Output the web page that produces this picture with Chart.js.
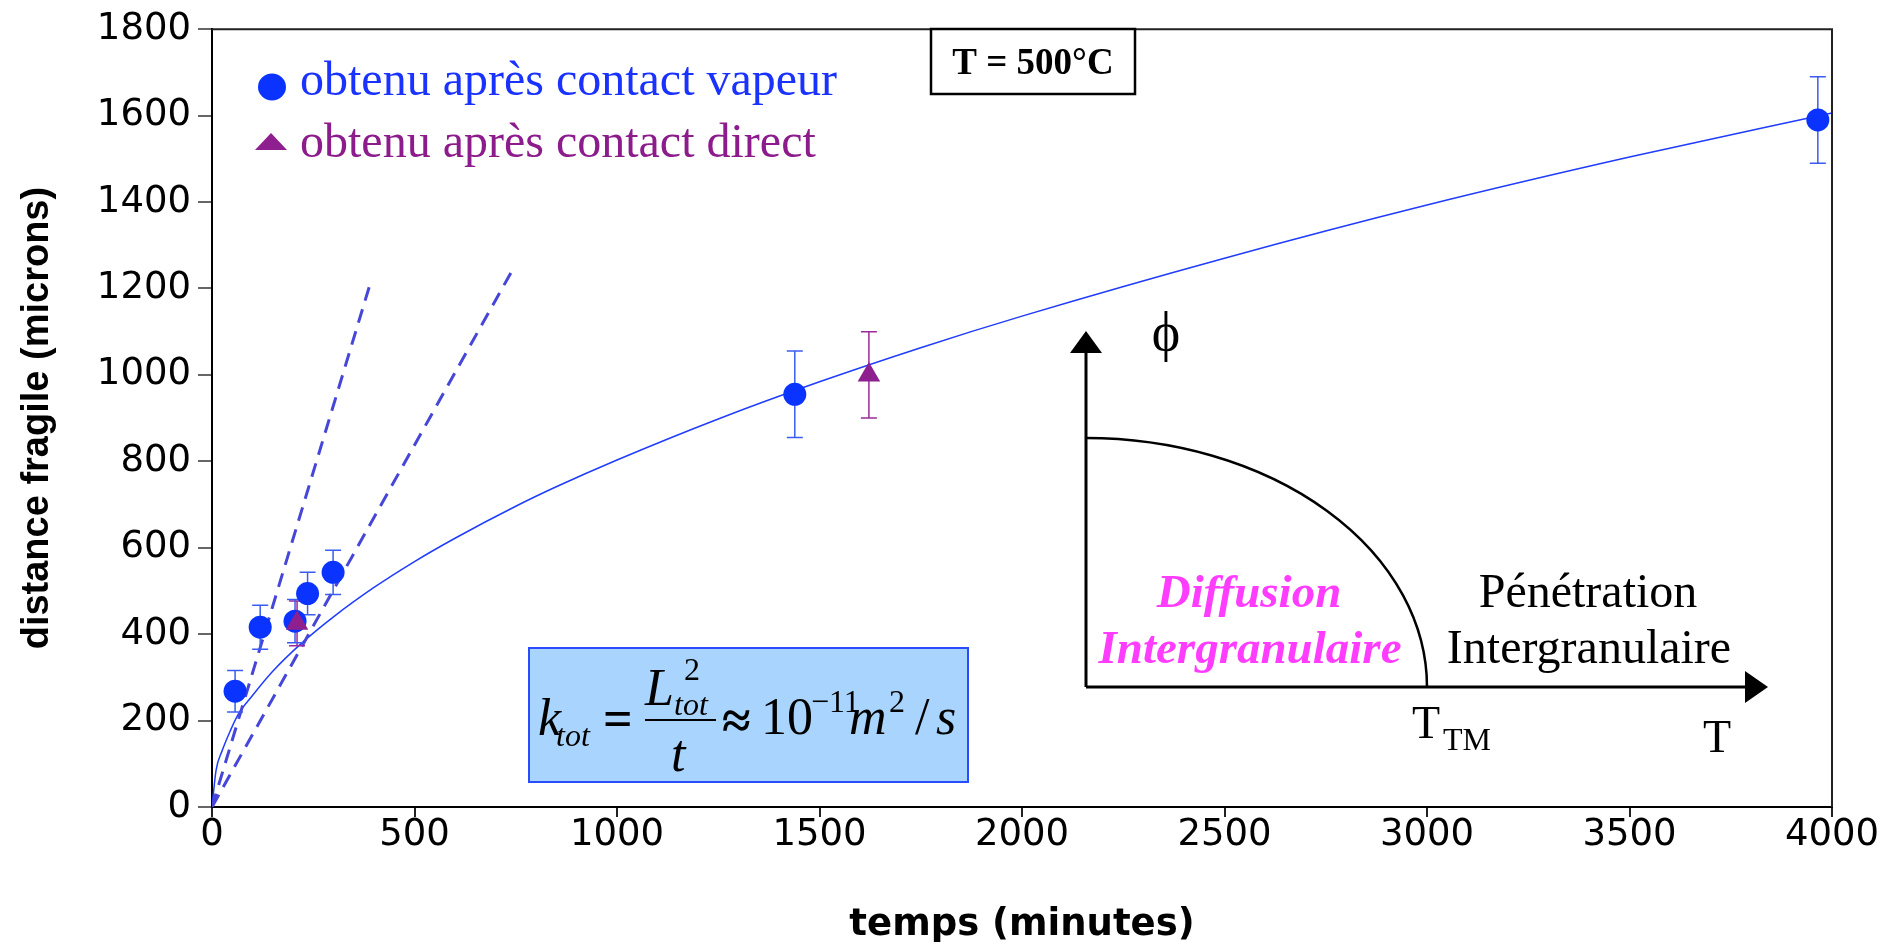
<!DOCTYPE html>
<html>
<head>
<meta charset="utf-8">
<script src="https://cdn.jsdelivr.net/npm/chart.js@4.4.1/dist/chart.umd.min.js"></script>
<style>
  html, body { margin: 0; padding: 0; background: #fff; overflow: hidden; }
</style>
</head>
<body>
<canvas id="c" width="1897" height="942"></canvas>
<script>
// points obtained after vapour contact (minutes, microns, +/- error)
const vapeurT = [57, 119, 205, 236, 299, 1439, 3965];
const vapeurL = [268, 416, 430, 494, 543, 955, 1590];
const vapeurErr = [48, 51, 50, 49, 51, 100, 100];

// points obtained after direct contact
const directT = [210, 1622];
const directL = [425, 1000];
const directErr = [52, 100];

// fitted curve
const fitT = [0, 10, 25, 45, 65, 100, 150, 220, 300, 400, 500, 600, 750, 850, 1000, 1250, 1500, 1750, 2000, 2500, 3000, 3500, 4000];
const fitL = [0, 85, 130, 176, 215, 258, 314, 378, 440, 508, 568, 622, 696, 741, 803, 898, 984, 1063, 1136, 1270, 1393, 1504, 1606];

// dashed initial slopes
const pente1T = [0, 389];
const pente1L = [0, 1206];
const pente2T = [0, 745];
const pente2L = [0, 1248];

const xTicks = [0, 500, 1000, 1500, 2000, 2500, 3000, 3500, 4000];
const yTicks = [0, 200, 400, 600, 800, 1000, 1200, 1400, 1600, 1800];

const BLUE = '#0a33ff';
const PURPLE = '#8e1f8e';
const SERIF = '"Liberation Serif", "Times New Roman", serif';

const pts = (xs, ys) => xs.map((x, i) => ({ x, y: ys[i] }));

function errBars(ts, ls, es, color) {
  return ts.map((t, i) => ({
    data: [{ x: t, y: ls[i] - es[i] }, { x: t, y: ls[i] + es[i] }],
    showLine: true,
    borderColor: color,
    borderWidth: 1.5,
    pointStyle: 'line',
    pointRadius: 8,
    pointHoverRadius: 8,
    pointBorderColor: color,
    pointBorderWidth: 1.5,
    order: 3,
  }));
}

function txt(ctx, s, x, y, font, color, align) {
  ctx.font = font;
  ctx.fillStyle = color;
  ctx.textAlign = align || 'left';
  ctx.fillText(s, x, y);
}

const decor = {
  id: 'decor',
  afterDatasetsDraw(chart) {
    const { ctx, chartArea: a } = chart;
    ctx.save();
    ctx.textBaseline = 'alphabetic';

    // frame top + right
    ctx.strokeStyle = '#222';
    ctx.lineWidth = 2;
    ctx.beginPath();
    ctx.moveTo(a.left, a.top);
    ctx.lineTo(a.right, a.top);
    ctx.lineTo(a.right, a.bottom);
    ctx.stroke();

    // legend
    ctx.fillStyle = BLUE;
    ctx.beginPath();
    ctx.ellipse(272, 87, 14, 13.5, 0, 0, Math.PI * 2);
    ctx.fill();
    txt(ctx, 'obtenu après contact vapeur', 300, 95, '48px ' + SERIF, '#1a32ff');
    ctx.fillStyle = PURPLE;
    ctx.beginPath();
    ctx.moveTo(271, 133); ctx.lineTo(287, 150); ctx.lineTo(255, 150); ctx.closePath();
    ctx.fill();
    txt(ctx, 'obtenu après contact direct', 300, 157, '48px ' + SERIF, '#8c1c8c');

    // T = 500°C box
    ctx.fillStyle = '#fff';
    ctx.fillRect(931, 29, 204, 65);
    ctx.strokeStyle = '#000';
    ctx.lineWidth = 2.5;
    ctx.strokeRect(931, 29, 204, 65);
    txt(ctx, 'T = 500°C', 1033, 74, 'bold 37px ' + SERIF, '#000', 'center');

    // formula box
    ctx.fillStyle = '#a9d4fd';
    ctx.fillRect(529, 648, 439, 134);
    ctx.strokeStyle = '#2a4cff';
    ctx.lineWidth = 2;
    ctx.strokeRect(529, 648, 439, 134);
    const I = 'italic 52px ' + SERIF, IS = 'italic 32px ' + SERIF;
    const R = '52px ' + SERIF, RS = '32px ' + SERIF;
    txt(ctx, 'k', 538, 735, I, '#000');
    txt(ctx, 'tot', 556, 746, IS, '#000');
    txt(ctx, '=', 603, 736, 'bold 52px ' + SERIF, '#000');
    txt(ctx, 'L', 645, 705, I, '#000');
    txt(ctx, '2', 684, 680, RS, '#000');
    txt(ctx, 'tot', 674, 715, IS, '#000');
    ctx.strokeStyle = '#000';
    ctx.lineWidth = 2;
    ctx.beginPath(); ctx.moveTo(645, 720); ctx.lineTo(716, 720); ctx.stroke();
    txt(ctx, 't', 671, 771, I, '#000');
    txt(ctx, '≈', 722, 738, 'bold 52px ' + SERIF, '#000');
    txt(ctx, '10', 761, 734, R, '#000');
    txt(ctx, '−11', 811, 712, RS, '#000');
    txt(ctx, 'm', 849, 734, I, '#000');
    txt(ctx, '2', 889, 712, RS, '#000');
    txt(ctx, '/', 915, 734, R, '#000');
    txt(ctx, 's', 936, 734, I, '#000');

    // inset diagram
    const ox = 1086, oy = 687;
    ctx.strokeStyle = '#000';
    ctx.fillStyle = '#000';
    ctx.lineWidth = 3;
    ctx.beginPath();
    ctx.moveTo(ox, oy); ctx.lineTo(ox, 350);
    ctx.moveTo(ox, oy); ctx.lineTo(1746, oy);
    ctx.stroke();
    ctx.beginPath();
    ctx.moveTo(ox, 331); ctx.lineTo(ox + 16, 353); ctx.lineTo(ox - 16, 353); ctx.closePath();
    ctx.fill();
    ctx.beginPath();
    ctx.moveTo(1768, oy); ctx.lineTo(1745, oy - 16); ctx.lineTo(1745, oy + 16); ctx.closePath();
    ctx.fill();
    ctx.lineWidth = 2.5;
    ctx.beginPath();
    ctx.ellipse(ox, oy, 341, 249, 0, -Math.PI / 2, 0);
    ctx.stroke();

    txt(ctx, 'ϕ', 1166, 350, '54px ' + SERIF, '#000', 'center');
    txt(ctx, 'Diffusion', 1249, 607, 'bold italic 47px ' + SERIF, '#ff3cff', 'center');
    txt(ctx, 'Intergranulaire', 1250, 663, 'bold italic 47px ' + SERIF, '#ff3cff', 'center');
    txt(ctx, 'Pénétration', 1588, 607, '48px ' + SERIF, '#000', 'center');
    txt(ctx, 'Intergranulaire', 1589, 663, '48px ' + SERIF, '#000', 'center');
    txt(ctx, 'T', 1412, 738, '46px ' + SERIF, '#000');
    txt(ctx, 'TM', 1443, 750, '32px ' + SERIF, '#000');
    txt(ctx, 'T', 1717, 752, '46px ' + SERIF, '#000', 'center');

    ctx.restore();
  }
};

Chart.defaults.font.family = '"DejaVu Sans", sans-serif';
Chart.defaults.color = '#000';

new Chart(document.getElementById('c'), {
  type: 'scatter',
  data: {
    datasets: [
      {
        data: pts(fitT, fitL), showLine: true, borderColor: '#1f3cff', borderWidth: 1.5,
        pointRadius: 0, cubicInterpolationMode: 'monotone', order: 5,
      },
      {
        data: pts(pente1T, pente1L), showLine: true, borderColor: '#4646d8', borderWidth: 3,
        borderDash: [14, 9], pointRadius: 0, order: 4,
      },
      {
        data: pts(pente2T, pente2L), showLine: true, borderColor: '#4646d8', borderWidth: 3,
        borderDash: [14, 9], pointRadius: 0, order: 4,
      },
      ...errBars(vapeurT, vapeurL, vapeurErr, '#3a5cf0'),
      ...errBars(directT, directL, directErr, '#9a2a9a'),
      {
        data: pts(vapeurT, vapeurL), pointStyle: 'circle', pointRadius: 11.5, pointHoverRadius: 11.5,
        backgroundColor: BLUE, borderColor: BLUE, borderWidth: 0, order: 1,
      },
      {
        data: pts(directT, directL), pointStyle: 'triangle', pointRadius: 13, pointHoverRadius: 13,
        backgroundColor: PURPLE, borderColor: PURPLE, borderWidth: 0, order: 0,
      },
    ],
  },
  options: {
    responsive: false,
    animation: false,
    events: [],
    layout: { padding: { left: 0, right: 65, top: 0, bottom: 0 } },
    plugins: { legend: { display: false }, tooltip: { enabled: false } },
    scales: {
      x: {
        type: 'linear', min: 0, max: 4000,
        afterBuildTicks: (s) => { s.ticks = xTicks.map((v) => ({ value: v })); },
        afterFit: (s) => { s.height = 135; },
        ticks: { padding: 0, font: { size: 37, lineHeight: 1 }, color: '#000', maxRotation: 0, callback: (v) => String(v) },
        grid: { drawOnChartArea: false, drawTicks: true, tickLength: 10, color: '#222', lineWidth: 2 },
        border: { color: '#000', width: 2 },
        title: {
          display: true, text: 'temps (minutes)', color: '#000',
          font: { size: 37, weight: 'bold', lineHeight: 0.9 }, padding: { top: 0, bottom: 0 },
        },
      },
      y: {
        type: 'linear', min: 0, max: 1800,
        afterBuildTicks: (s) => { s.ticks = yTicks.map((v) => ({ value: v })); },
        afterFit: (s) => { s.width = 212; },
        ticks: { padding: 7, font: { size: 37 }, color: '#000', callback: (v) => String(v) },
        grid: { drawOnChartArea: false, drawTicks: true, tickLength: 14, color: '#666', lineWidth: 2 },
        border: { color: '#000', width: 2 },
        title: {
          display: true, text: 'distance fragile (microns)', color: '#000',
          font: { family: '"Liberation Sans", Arial, sans-serif', size: 38, weight: 'bold' },
          padding: { top: 15, bottom: 0 },
        },
      },
    },
  },
  plugins: [decor],
});
</script>
</body>
</html>
